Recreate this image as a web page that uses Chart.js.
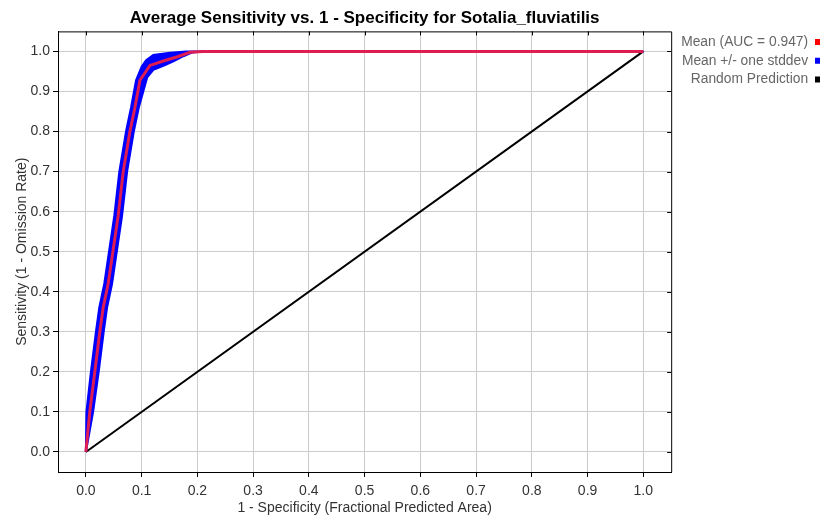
<!DOCTYPE html>
<html>
<head>
<meta charset="utf-8">
<script src="https://cdn.jsdelivr.net/npm/chart.js@4/dist/chart.umd.min.js"></script>
<style>
  html, body { margin: 0; padding: 0; background: #fff; }
  #wrap { width: 825px; height: 515px; }
</style>
</head>
<body>
<div id="wrap"><canvas id="roc"></canvas></div>
<script>
// mean ROC curve (x = 1 - specificity, y = sensitivity)
const meanX = [0, 0.007, 0.016, 0.025, 0.031, 0.040, 0.049, 0.058, 0.067, 0.079, 0.088, 0.097, 0.115, 0.139, 0.163, 0.187, 0.21, 1.0];
const meanY = [0, 0.10, 0.20, 0.30, 0.36, 0.42, 0.505, 0.59, 0.70, 0.80, 0.86, 0.928, 0.965, 0.976, 0.986, 0.998, 1.0, 1.0];

// mean + one stddev
const upperX = [0, 0.001, 0.009, 0.018, 0.024, 0.033, 0.042, 0.051, 0.060, 0.072, 0.081, 0.090, 0.100, 0.108, 0.121, 0.151, 0.18, 1.0];
const upperY = [0, 0.10, 0.20, 0.30, 0.36, 0.42, 0.505, 0.59, 0.70, 0.80, 0.86, 0.928, 0.962, 0.978, 0.991, 0.997, 1.0, 1.0];

// mean - one stddev
const lowerX = [0, 0.013, 0.023, 0.032, 0.038, 0.047, 0.056, 0.065, 0.074, 0.086, 0.095, 0.103, 0.110, 0.121, 0.139, 0.157, 0.175, 0.19, 0.21, 1.0];
const lowerY = [0, 0.10, 0.20, 0.30, 0.36, 0.42, 0.505, 0.59, 0.70, 0.80, 0.86, 0.90, 0.935, 0.954, 0.964, 0.975, 0.988, 0.997, 1.0, 1.0];

const randomX = [0, 1];
const randomY = [0, 1];

const xTicks = [0, 0.1, 0.2, 0.3, 0.4, 0.5, 0.6, 0.7, 0.8, 0.9, 1.0];
const yTicks = [0, 0.1, 0.2, 0.3, 0.4, 0.5, 0.6, 0.7, 0.8, 0.9, 1.0];

const legendNames = ['Mean (AUC = 0.947)', 'Mean +/- one stddev', 'Random Prediction'];
const legendColors = ['#ff0000', '#0000ff', '#000000'];

const titleText = 'Average Sensitivity vs. 1 - Specificity for Sotalia_fluviatilis';
const xTitle = '1 - Specificity (Fractional Predicted Area)';
const yTitle = 'Sensitivity (1 - Omission Rate)';

const FONT = 'Liberation Sans, Arial, sans-serif';
const blue = '#0000ff';
const red = 'rgb(222, 28, 82)';

const pts = (xs, ys) => xs.map((x, i) => ({ x: x, y: ys[i] }));

// top and right frame with inward ticks
const framePlugin = {
    id: 'frame',
    afterDraw(chart) {
        const { ctx, chartArea: a, scales } = chart;
        ctx.save();
        ctx.strokeStyle = '#000';
        ctx.lineWidth = 1;
        ctx.beginPath();
        ctx.moveTo(a.left, a.top + 0.5);
        ctx.lineTo(a.right + 0.5, a.top + 0.5);
        ctx.lineTo(a.right + 0.5, a.bottom);
        xTicks.forEach(v => {
            const px = Math.round(scales.x.getPixelForValue(v)) + 0.5;
            ctx.moveTo(px, a.top);
            ctx.lineTo(px, a.top + 4);
        });
        yTicks.forEach(v => {
            const py = Math.round(scales.y.getPixelForValue(v)) + 0.5;
            ctx.moveTo(a.right, py);
            ctx.lineTo(a.right - 4, py);
        });
        ctx.stroke();
        ctx.restore();
    }
};

new Chart(document.getElementById('roc'), {
    type: 'line',
    data: {
        datasets: [{
            label: 'upper',
            data: pts(upperX, upperY),
            borderColor: blue,
            backgroundColor: blue,
            borderWidth: 2,
            fill: false,
            order: 2,
        }, {
            label: 'lower',
            data: pts(lowerX, lowerY),
            borderColor: blue,
            backgroundColor: blue,
            borderWidth: 2,
            fill: '-1',
            order: 2,
        }, {
            label: 'mean',
            data: pts(meanX, meanY),
            borderColor: red,
            borderWidth: 3,
            fill: false,
            order: 0,
        }, {
            label: 'random',
            data: pts(randomX, randomY),
            borderColor: '#000',
            borderWidth: 2,
            fill: false,
            order: 3,
        }]
    },
    options: {
        responsive: true,
        maintainAspectRatio: false,
        animation: false,
        layout: { padding: 0 },
        elements: {
            point: { radius: 0, hoverRadius: 0 },
            line: { tension: 0 }
        },
        scales: {
            x: {
                type: 'linear',
                min: -0.05,
                max: 1.05,
                afterBuildTicks: s => { s.ticks = xTicks.map(v => ({ value: v })); },
                afterFit: s => { s.height = 43; },
                grid: { color: '#cccccc', tickColor: '#000', tickLength: 5 },
                border: { color: '#000', width: 1 },
                ticks: {
                    padding: 6,
                    color: '#333',
                    font: { family: FONT, size: 14 },
                    maxRotation: 0,
                    callback: v => v.toFixed(1)
                },
                title: {
                    display: true,
                    text: xTitle,
                    color: '#333',
                    font: { family: FONT, size: 14 },
                    padding: { top: 0, bottom: -2 }
                }
            },
            y: {
                type: 'linear',
                min: -0.05,
                max: 1.05,
                afterBuildTicks: s => { s.ticks = yTicks.map(v => ({ value: v })); },
                afterFit: s => { s.width = 58; },
                grid: { color: '#cccccc', tickColor: '#000', tickLength: 5 },
                border: { color: '#000', width: 1 },
                ticks: {
                    padding: 3,
                    color: '#333',
                    font: { family: FONT, size: 14 },
                    callback: v => v.toFixed(1)
                },
                title: {
                    display: true,
                    text: yTitle,
                    color: '#333',
                    font: { family: FONT, size: 14 },
                    padding: { top: 14, bottom: 0 }
                }
            }
        },
        plugins: {
            title: {
                display: true,
                text: titleText,
                fullSize: false,
                color: '#000',
                font: { family: FONT, size: 17, weight: 'bold' },
                padding: { top: 8, bottom: 3 }
            },
            legend: {
                position: 'right',
                align: 'start',
                rtl: true,
                textDirection: 'ltr',
                title: { display: true, text: '', padding: { top: 15.6, bottom: 0 }, font: { size: 12 } },
                labels: {
                    boxWidth: 5,
                    boxHeight: 6,
                    padding: 5,
                    color: '#222',
                    font: { family: FONT, size: 13.8 },
                    generateLabels: () => legendNames.map((name, i) => ({
                        text: name,
                        fillStyle: legendColors[i],
                        strokeStyle: legendColors[i],
                        lineWidth: 0,
                        hidden: false,
                        datasetIndex: i
                    }))
                }
            },
            tooltip: { enabled: false }
        }
    },
    plugins: [framePlugin]
});
</script>
</body>
</html>
